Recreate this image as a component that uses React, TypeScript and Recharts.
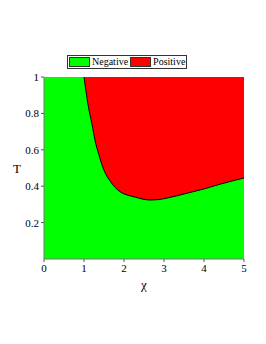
import { ComposedChart, Area, Line, XAxis, YAxis, ReferenceArea } from 'recharts';

const chi = [1.0, 1.05, 1.11, 1.2, 1.275, 1.37, 1.47, 1.56, 1.65, 1.77, 1.9, 2.1, 2.28, 2.45, 2.65, 2.85, 3.1, 3.57, 4.0, 4.4, 5.0];
const tCrit = [1.0, 0.92, 0.837, 0.74, 0.652, 0.575, 0.504, 0.46, 0.429, 0.395, 0.37, 0.35, 0.34, 0.33, 0.324, 0.326, 0.336, 0.361, 0.385, 0.411, 0.445];
const xTicks = [0, 1, 2, 3, 4, 5];
const yTicks = [0.2, 0.4, 0.6, 0.8, 1];
const legendItems = [
  { name: 'Negative', color: '#00ff00' },
  { name: 'Positive', color: '#ff0000' },
];

const data = chi.map((x, i) => ({ chi: x, t: tCrit[i], pos: [tCrit[i], 1] }));

const font = 'Liberation Serif';

function LegendBox() {
  return (
    <div style={{ position: 'absolute', left: 67, top: 55, display: 'flex', alignItems: 'center', border: '1px solid #333', padding: '1px 1px', fontFamily: font, fontSize: 10, lineHeight: '10px', background: '#fff' }}>
      {legendItems.map((it, i) => (
        <span key={it.name} style={{ display: 'flex', alignItems: 'center', marginRight: i === 0 ? 2 : 0 }}>
          <span style={{ width: 19, height: 8, background: it.color, border: '1px solid #333', marginRight: 2 }} />
          <span>{it.name}</span>
        </span>
      ))}
    </div>
  );
}

export default function App() {
  return (
    <div style={{ position: 'absolute', left: 0, top: 0, width: 266, height: 344, background: '#fff', fontFamily: font }}>
      <ComposedChart width={266} height={344} data={data} margin={{ top: 77, right: 22, bottom: 55, left: 0 }}>
        <XAxis dataKey="chi" type="number" domain={[0, 5]} ticks={xTicks} height={30}
          tick={{ fontFamily: font, fontSize: 11, fill: '#000' }} tickSize={3} tickLine={{ stroke: '#555' }}
          axisLine={{ stroke: '#777' }}
          label={{ value: 'χ', position: 'insideBottom', offset: 0, fontFamily: font, fontSize: 13, fill: '#000' }} />
        <YAxis type="number" domain={[0, 1]} ticks={yTicks} width={44} interval={0}
          tick={{ fontFamily: font, fontSize: 11, fill: '#000' }} tickSize={3} tickLine={{ stroke: '#555' }}
          axisLine={{ stroke: '#777' }}
          label={{ value: 'T', position: 'insideLeft', offset: 13, fontFamily: font, fontSize: 13, fill: '#000' }} />
        <XAxis xAxisId="top" orientation="top" type="number" domain={[0, 5]} dataKey="chi" tick={false} tickLine={false} height={0} axisLine={{ stroke: '#777' }} />
        <YAxis yAxisId="right" orientation="right" type="number" domain={[0, 1]} tick={false} tickLine={false} width={0} axisLine={{ stroke: '#aaa' }} />
        <ReferenceArea x1={0} x2={5} y1={0} y2={1} fill="#00ff00" fillOpacity={1} stroke="none" />
        <Area dataKey="pos" type="monotone" fill="#ff0000" fillOpacity={1} stroke="none" isAnimationActive={false} />
        <Line dataKey="t" type="monotone" stroke="#000" strokeWidth={1} dot={false} isAnimationActive={false} />
      </ComposedChart>
      <LegendBox />
    </div>
  );
}
